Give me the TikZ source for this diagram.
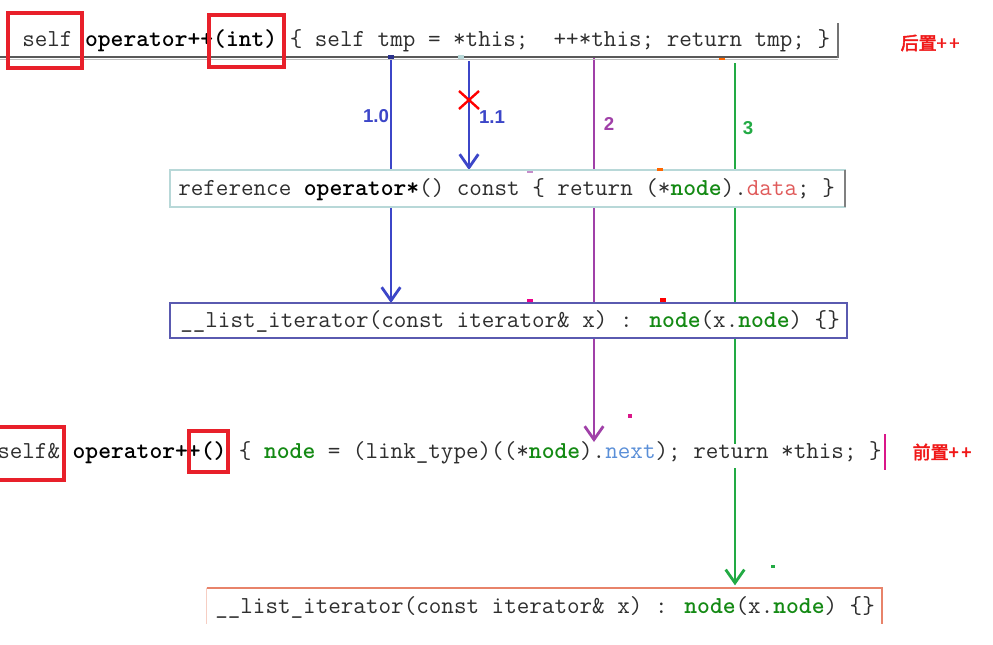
\documentclass[tikz,border=0pt]{standalone}
\usepackage{fontspec}
\usetikzlibrary{arrows.meta,calc}
\newfontfamily\cjkfont[AutoFakeBold=2.5]{Noto Sans CJK SC}
\newfontfamily\lblfont{Liberation Sans}
\definecolor{codegray}{HTML}{2E2E2E}
\definecolor{codegreen}{HTML}{148A14}
\definecolor{datared}{HTML}{E05A5A}
\definecolor{nextblue}{HTML}{5A8FD8}
\definecolor{arrblue}{HTML}{3C46C8}
\definecolor{arrpurple}{HTML}{A040A8}
\definecolor{arrgreen}{HTML}{22AA44}
\definecolor{boxred}{HTML}{E8202A}
\definecolor{lblred}{HTML}{F01818}
\definecolor{tealb}{HTML}{B8D8D8}
\definecolor{box3b}{HTML}{5A5AB0}
\definecolor{salmon}{HTML}{E8836A}
\newcommand{\gn}[1]{\textcolor{codegreen}{\textbf{#1}}}
\begin{document}
\begin{tikzpicture}[x=0.75pt,y=-0.75pt,
  code/.style={anchor=base west,inner sep=0pt,font=\ttfamily\fontsize{18.3pt}{20pt}\selectfont,text=codegray},
  band/.style={fill=white,draw=none,inner sep=0pt},
  conn/.style={line width=2.1pt,-{Straight Barb[length=10pt,width=14pt,line width=2.1pt]}},
  steplbl/.style={font=\lblfont\bfseries\fontsize{14pt}{16pt}\selectfont,inner sep=0pt},
  redbox/.style={draw=boxred,line width=2.4pt},
  sidelbl/.style={font=\cjkfont\bfseries\fontsize{13.5pt}{15pt}\selectfont,text=lblred,inner sep=0pt}
]
\useasboundingbox (0,0) rectangle (993,644);
\fill[white] (0,0) rectangle (993,644);

% box anchors (defined first so connectors can use them)
\coordinate (b2n) at (507.5,170);
\coordinate (b3n) at (508.5,303);
\coordinate (b5n) at (544.5,588);

% connectors (drawn first, boxes cover them)
\coordinate (s10) at (391,58);
\coordinate (s11) at (469,61);
\coordinate (s2) at (594,58);
\coordinate (e2) at (594,442);
\coordinate (s3) at (735,63);
\draw[conn,arrblue] (s10) -- (s10 |- b3n);
\draw[conn,arrblue] (s11) -- (s11 |- b2n);
\draw[conn,arrpurple] (s2) -- (e2);
\draw[conn,arrgreen,shorten >=2pt] (s3) -- (s3 |- b5n);

% boxes (white backgrounds covering connectors)
\node[band,minimum width=506.25pt,minimum height=27.75pt] (b2) at (507.5,188.5) {};
\draw[tealb,line width=1.5pt] (b2.north west) rectangle (b2.south east);
\draw[gray,line width=1.5pt] (b2.north east) -- (b2.south east);
\node[band,minimum width=507.75pt,minimum height=26.25pt] (b3) at (508.5,320.5) {};
\draw[box3b,line width=1.8pt] (b3.north west) rectangle (b3.south east);
\node[band,minimum width=663pt,minimum height=18pt] (b4) at (442,456) {};
\draw[magenta!80!violet,line width=1.5pt] (885,434) -- (885,470);
\node[band,minimum width=506.25pt,minimum height=27pt] (b5) at (544.5,606) {};
\draw[salmon!40,line width=1pt] (b5.north west) -- (b5.south west);
\draw[salmon,line width=1.8pt] (b5.north west) -- (b5.north east) -- (b5.south east);

% top line borders
\draw[black!65,line width=2pt] (0,57) -- (838,57);
\draw[black!25,line width=1pt] (0,59.5) -- (838,59.5);
\draw[black!55,line width=1.2pt] (838,23) -- (838,58);

% texts
\node[code] (t1) at (22,46.7) {self \textcolor{black}{\textbf{operator++(int)}} \{ self tmp = *this;\ \ ++*this; return tmp; \}};
\node[code] (t2) at (178,195.5) {reference \textcolor{black}{\textbf{operator*}}() const \{ return (*\gn{node}).\textcolor{datared}{data}; \}};
\node[code] (t3) at (180,327) {\_\_list\_iterator(const iterator\& x) : \gn{node}(x.\gn{node}) \{\}};
\node[code] (t4) at (-3,458.5) {self\& \textcolor{black}{\textbf{operator++()}} \{ \gn{node} = (link\_type)((*\gn{node}).\textcolor{nextblue}{next}); return *this; \}};
\node[code] (t5) at (215,613) {\_\_list\_iterator(const iterator\& x) : \gn{node}(x.\gn{node}) \{\}};

% red X
\coordinate (xx) at (469,100);
\draw[red,line width=1.8pt] ($(xx)+(-10,-9)$) -- ($(xx)+(10,9)$) ($(xx)+(10,-9)$) -- ($(xx)+(-10,9)$);

% step labels
\node[steplbl,text=arrblue] (l10) at (376,116) {1.0};
\node[steplbl,text=arrblue] (l11) at (492,117) {1.1};
\node[steplbl,text=arrpurple] (l2) at (609,124) {2};
\node[steplbl,text=arrgreen] (l3) at (748,128) {3};

% red highlight boxes
\draw[redbox] (8,13) rectangle (82,68);
\draw[redbox] (209,15) rectangle (284,67);
\draw[redbox] (-5,427) rectangle (64,480);
\draw[redbox] (189,431) rectangle (228,472);

% side labels
\node[sidelbl] (post) at (930,43) {后置+\kern2pt+};
\node[sidelbl] (pre) at (942,452) {前置+\kern2pt+};

% small marks
\fill[arrblue!70!black] (388,55) rectangle (394,59);
\fill[tealb] (458,55) rectangle (464,59);
\fill[orange!80!red] (719,58) rectangle (725,60);
\fill[arrpurple!60] (527,171) rectangle (533,173);
\fill[orange!80!red] (657,168) rectangle (663,171);
\fill[magenta] (527,299) rectangle (533,302);
\fill[red] (660,298) rectangle (666,302);
\fill[magenta!80!violet] (628,414) rectangle (632,418);
\fill[arrgreen] (771,565) rectangle (775,568);
\end{tikzpicture}
\end{document}
